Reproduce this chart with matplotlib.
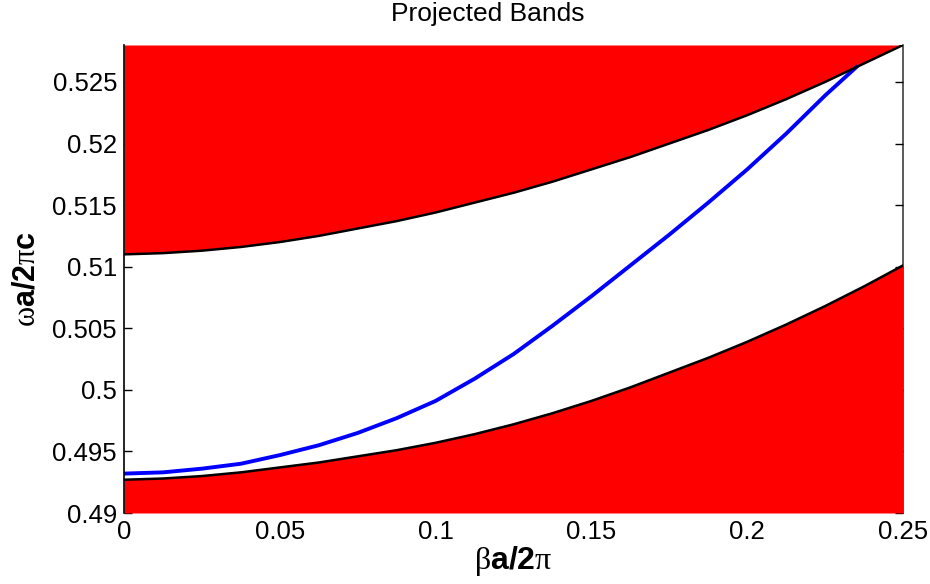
import matplotlib
matplotlib.use("Agg")
import matplotlib.pyplot as plt

plt.rcParams['font.family'] = ['Liberation Sans', 'DejaVu Sans']
plt.rcParams['mathtext.fontset'] = 'custom'
plt.rcParams['mathtext.rm'] = 'Liberation Serif'

# band edges (beta a / 2pi  vs  omega a / 2pi c)
beta = [0.0, 0.0125, 0.025, 0.0375, 0.05, 0.0625, 0.075, 0.0875, 0.1, 0.1125, 0.125,
        0.1375, 0.15, 0.1625, 0.175, 0.1875, 0.2, 0.2125, 0.225, 0.2375, 0.25]
upper_edge = [0.5110, 0.5111, 0.5113, 0.5116, 0.5120, 0.5125, 0.5131, 0.5137, 0.5144, 0.5152, 0.5160,
              0.5169, 0.5179, 0.5189, 0.5200, 0.5211, 0.5223, 0.5236, 0.5250, 0.5265, 0.5280]
lower_edge = [0.4927, 0.4928, 0.4930, 0.4933, 0.4937, 0.4941, 0.4946, 0.4951, 0.4957, 0.4964, 0.4972,
              0.4981, 0.4991, 0.5002, 0.5014, 0.5026, 0.5039, 0.5053, 0.5068, 0.5084, 0.5101]

# guided mode
beta_mode = [0.0, 0.0125, 0.025, 0.0375, 0.05, 0.0625, 0.075, 0.0875, 0.1, 0.1125, 0.125,
             0.1375, 0.15, 0.1625, 0.175, 0.1875, 0.2, 0.2125, 0.225, 0.235]
mode = [0.4932, 0.4933, 0.4936, 0.4940, 0.4947, 0.4955, 0.4965, 0.4977, 0.4991, 0.5009, 0.5029,
        0.5052, 0.5076, 0.5101, 0.5126, 0.5152, 0.5179, 0.5208, 0.5239, 0.5262]

xlim = (0, 0.25)
ylim = (0.49, 0.528)
yticks = [0.49, 0.495, 0.5, 0.505, 0.51, 0.515, 0.52, 0.525]
yticklabels = ['0.49', '0.495', '0.5', '0.505', '0.51', '0.515', '0.52', '0.525']
xticks = [0, 0.05, 0.1, 0.15, 0.2, 0.25]
xticklabels = ['0', '0.05', '0.1', '0.15', '0.2', '0.25']

fig = plt.figure(figsize=(9.3, 5.84), dpi=100)
ax = fig.add_axes([124 / 930, 1 - 513 / 584, (903 - 124) / 930, (513 - 45) / 584])

# red regions = projected bulk bands
ax.fill_between(beta, upper_edge, ylim[1], color='#ff0000', lw=0, zorder=1)
ax.fill_between(beta, ylim[0], lower_edge, color='#ff0000', lw=0, zorder=1)
ax.plot(beta, upper_edge, color='black', lw=1.8, zorder=3, solid_joinstyle='round')
ax.plot(beta, lower_edge, color='black', lw=1.8, zorder=3, solid_joinstyle='round')
ax.plot(beta_mode, mode, color='#0000ff', lw=2.8, zorder=2, solid_joinstyle='round')

ax.set_xlim(*xlim)
ax.set_ylim(*ylim)
ax.set_axisbelow(True)
ax.set_xticks(xticks)
ax.set_xticklabels(xticklabels)
ax.set_yticks(yticks)
ax.set_yticklabels(yticklabels)
ax.tick_params(axis='y', direction='in', length=6, width=1, left=True, right=True,
               labelsize=18.5, pad=5)
ax.tick_params(axis='x', length=0, labelsize=18.5, pad=5)

ax.spines['top'].set_visible(False)
ax.spines['bottom'].set_visible(False)
ax.spines['left'].set_linewidth(1.2)
ax.spines['right'].set_color('#404040')
ax.spines['right'].set_linewidth(1.2)
ax.spines['right'].set_zorder(0.5)

ax.set_xlabel(r'$\mathrm{\beta}$a/2$\mathrm{\pi}$', fontsize=23, fontweight='bold', labelpad=0)
ax.set_ylabel(r'$\mathrm{\omega}$a/2$\mathrm{\pi}$c', fontsize=22, fontweight='bold', labelpad=8)
fig.text(488 / 930, 1 - 14 / 584, 'Projected Bands', ha='center', va='center', fontsize=19)

fig.savefig('out.png', dpi=100)
